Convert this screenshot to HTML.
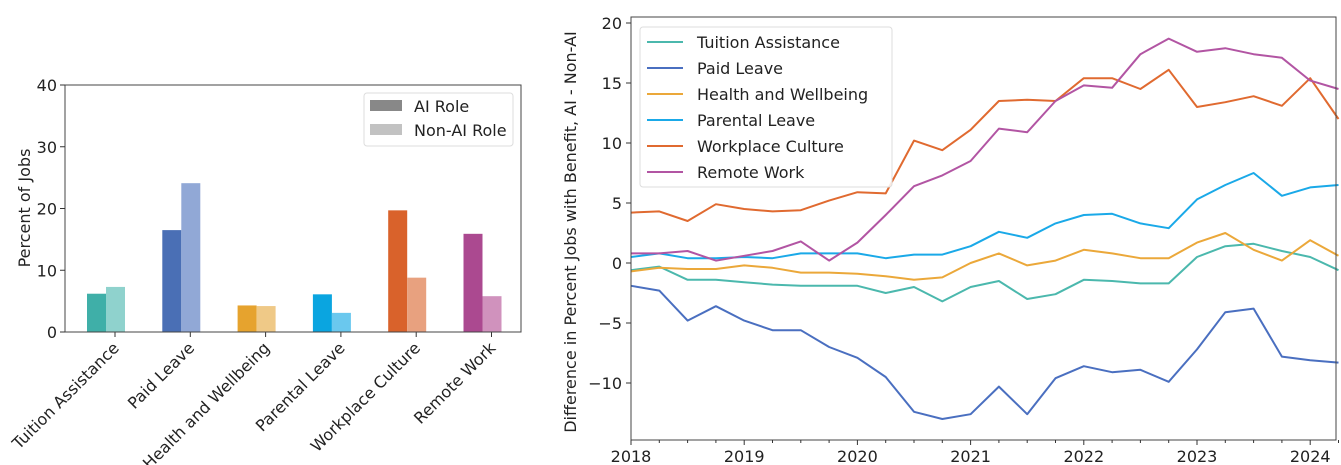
<!DOCTYPE html>
<html><head><meta charset="utf-8"><style>
body{margin:0;background:#fff;}
svg{display:block;font-family:"DejaVu Sans","Liberation Sans",sans-serif;}
</style></head><body>
<svg id="root" width="1341" height="465">
<g id="left"></g>
<g id="right"></g>
</svg>
<script>
const barCats = ["Tuition Assistance","Paid Leave","Health and Wellbeing","Parental Leave","Workplace Culture","Remote Work"];
const aiVals = [6.2,16.5,4.3,6.1,19.7,15.9];
const nonAiVals = [7.3,24.1,4.2,3.1,8.8,5.8];
const barTicks = [0,10,20,30,40];
const lineNames = ["Tuition Assistance","Paid Leave","Health and Wellbeing","Parental Leave","Workplace Culture","Remote Work"];
const tuition = [-0.6,-0.3,-1.4,-1.4,-1.6,-1.8,-1.9,-1.9,-1.9,-2.5,-2.0,-3.2,-2.0,-1.5,-3.0,-2.6,-1.4,-1.5,-1.7,-1.7,0.5,1.4,1.6,1.0,0.5,-0.6];
const paid = [-1.9,-2.3,-4.8,-3.6,-4.8,-5.6,-5.6,-7.0,-7.9,-9.5,-12.4,-13.0,-12.6,-10.3,-12.6,-9.6,-8.6,-9.1,-8.9,-9.9,-7.2,-4.1,-3.8,-7.8,-8.1,-8.3];
const health = [-0.7,-0.4,-0.5,-0.5,-0.2,-0.4,-0.8,-0.8,-0.9,-1.1,-1.4,-1.2,0.0,0.8,-0.2,0.2,1.1,0.8,0.4,0.4,1.7,2.5,1.1,0.2,1.9,0.6];
const parental = [0.5,0.8,0.4,0.4,0.5,0.4,0.8,0.8,0.8,0.4,0.7,0.7,1.4,2.6,2.1,3.3,4.0,4.1,3.3,2.9,5.3,6.5,7.5,5.6,6.3,6.5];
const workplace = [4.2,4.3,3.5,4.9,4.5,4.3,4.4,5.2,5.9,5.8,10.2,9.4,11.1,13.5,13.6,13.5,15.4,15.4,14.5,16.1,13.0,13.4,13.9,13.1,15.4,12.0];
const remote = [0.8,0.8,1.0,0.2,0.6,1.0,1.8,0.2,1.7,4.0,6.4,7.3,8.5,11.2,10.9,13.5,14.8,14.6,17.4,18.7,17.6,17.9,17.4,17.1,15.2,14.5];
const yearTicks = [2018,2019,2020,2021,2022,2023,2024];
const lineYTicks = [-10,-5,0,5,10,15,20];
const startYear = 2018;

const NS="http://www.w3.org/2000/svg";
function mk(parent,tag,attrs,text){const e=document.createElementNS(NS,tag);for(const k in attrs)e.setAttribute(k,attrs[k]);if(text!==undefined)e.textContent=text;parent.appendChild(e);return e;}

// ---- bar chart
const L=document.getElementById('left');
const bx0=65,bx1=521,by0=332,by1=85;
const byS=v=>by0-(v/40)*(by0-by1);
const bxT=i=>115+i*75.3;
const darkC=["#3fafa8","#4a6fb5","#e6a32e","#0aa5e0","#d9622b","#ab4990"];
const lightC=["#8fd2cd","#91a8d6","#efc987","#6ac8ee","#e8a17f","#d092bd"];
barCats.forEach((c,i)=>{
  const s=bxT(i)-28;
  let r=mk(L,'rect',{x:s,y:byS(aiVals[i]),width:19,height:by0-byS(aiVals[i]),fill:darkC[i]});
  
  
  r=mk(L,'rect',{x:s+19,y:byS(nonAiVals[i]),width:19,height:by0-byS(nonAiVals[i]),fill:lightC[i]});
  
  
  mk(L,'line',{x1:bxT(i),x2:bxT(i),y1:by0,y2:by0+5,stroke:'#333'});
  const tx=bxT(i)+5, ty=by0+17;
  const t=mk(L,'text',{x:tx,y:ty,'font-size':16,fill:'#222','text-anchor':'end',transform:`rotate(-45 ${tx} ${ty})`},c);
  
  
});
mk(L,'rect',{x:bx0,y:by1,width:bx1-bx0,height:by0-by1,fill:'none',stroke:'#444','stroke-width':1});
barTicks.forEach(v=>{
  mk(L,'line',{x1:bx0-5,x2:bx0,y1:byS(v),y2:byS(v),stroke:'#333'});
  const t=mk(L,'text',{x:bx0-8,y:byS(v)+6,'font-size':16,fill:'#222','text-anchor':'end'},v);
  
  
});
{const t=mk(L,'text',{x:30,y:208,'font-size':16,fill:'#222','text-anchor':'middle',transform:'rotate(-90 30 208)'},'Percent of Jobs');
}
{const g=mk(L,'g',{});
mk(g,'rect',{x:364,y:93,width:149,height:53,fill:'#fff',stroke:'#ddd',rx:3});
mk(g,'rect',{x:370,y:100,width:32,height:11,fill:'#888'});
mk(g,'text',{x:414,y:112,'font-size':16,fill:'#222'},'AI Role');
mk(g,'rect',{x:370,y:124,width:32,height:11,fill:'#c2c2c2'});
mk(g,'text',{x:414,y:136,'font-size':16,fill:'#222'},'Non-AI Role');}

// ---- line chart
const R=document.getElementById('right');
const lx0=631,lx1=1336,ly0=440,ly1=17;
const lxS=yr=>631+(yr-2018)*113.2;
const lyS=v=>263-v*12;
const series=[tuition,paid,health,parental,workplace,remote];
const lcol=["#4bb8ad","#4a6fc0","#eba83a","#1aa9e8","#e06a30","#b255a3"];
series.forEach((s,k)=>{
  const pts=s.map((v,i)=>lxS(startYear+i*0.25).toFixed(1)+','+lyS(v).toFixed(1)).join(' ');
  const p=mk(R,'polyline',{points:pts,fill:'none',stroke:lcol[k],'stroke-width':2,'stroke-linejoin':'round'});
  
  
});
mk(R,'rect',{x:lx0,y:ly1,width:lx1-lx0,height:ly0-ly1,fill:'none',stroke:'#444'});
lineYTicks.forEach(v=>{
  mk(R,'line',{x1:lx0-5,x2:lx0,y1:lyS(v),y2:lyS(v),stroke:'#333'});
  const t=mk(R,'text',{x:lx0-9,y:lyS(v)+6,'font-size':16,fill:'#222','text-anchor':'end'},v<0?'\u2212'+(-v):v);
  
  
});
for(let q=0;q<=25;q++){const x=lxS(2018+q*0.25);mk(R,'line',{x1:x,x2:x,y1:ly0,y2:ly0+(q%4==0?5:3),stroke:'#333'});}
yearTicks.forEach(y=>{
  const t=mk(R,'text',{x:lxS(y),y:ly0+22,'font-size':16,fill:'#222','text-anchor':'middle'},y);
  
  
});
{const t=mk(R,'text',{x:576,y:232,'font-size':16,fill:'#222','text-anchor':'middle',transform:'rotate(-90 576 232)'},'Difference in Percent Jobs with Benefit, AI - Non-AI');
}
{const g=mk(R,'g',{});
mk(g,'rect',{x:640,y:27,width:252,height:160,fill:'#fff','fill-opacity':0.85,stroke:'#ddd',rx:3});
lineNames.forEach((n,k)=>{const y=42+k*26;
  mk(g,'line',{x1:647,x2:683,y1:y,y2:y,stroke:lcol[k],'stroke-width':2});
  mk(g,'text',{x:697,y:y+6,'font-size':16,fill:'#222'},n);});}
</script>
</body></html>
